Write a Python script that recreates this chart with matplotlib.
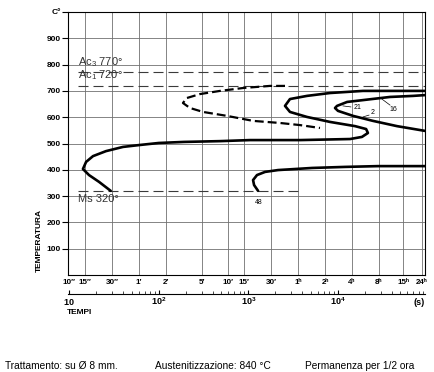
import matplotlib
matplotlib.use("Agg")
import matplotlib.pyplot as plt
import numpy as np

plt.rcParams['font.family'] = ['Liberation Sans', 'DejaVu Sans']
plt.rcParams['mathtext.fontset'] = 'custom'
plt.rcParams['mathtext.rm'] = 'Liberation Sans'
plt.rcParams['mathtext.bf'] = 'Liberation Sans:bold'

# time axis ticks (s) and labels
tick_times = [10, 15, 30, 60, 120, 300, 600, 900, 1800, 3600, 7200, 14400, 28800, 54000, 86400]
tick_labels = ['10\u2033', '15\u2033', '30\u2033', '1\u2032', '2\u2032', '5\u2032', '10\u2032', '15\u2032',
               '30\u2032', '1\u02b0', '2\u02b0', '4\u02b0', '8\u02b0', '15\u02b0', '24\u02b0']
temp_ticks = [100, 200, 300, 400, 500, 600, 700, 800, 900]

# critical temperatures
Ac3 = 770
Ac1 = 720
Ms = 320

# outer curve: from Ms, nose at ~14 s, bainite bay, pearlite nose
c1_t = [29, 21.5, 16.6, 14.2, 15.4, 18.4, 25.7, 39.8, 60, 100, 191, 483, 1045, 3780, 13700,
        18600, 21700, 20700, 15600, 8190, 4520, 2920, 2570, 2920, 4520, 8190, 19100, 45900, 94000]
c1_T = [320, 354, 380, 403, 430, 452, 471, 487, 494, 502, 506, 509, 513, 513, 517,
        525, 540, 555, 566, 582, 601, 620, 643, 669, 681, 692, 700, 700, 700]

# inner curve (21 / 2 / 16)
c2_t = [94000, 69200, 38300, 19100, 12700, 9800, 9300, 10050, 14800, 24700, 45900, 94000]
c2_T = [684, 681, 677, 665, 658, 643, 635, 624, 605, 586, 566, 548]

# dashed curve
c3_t = [2570, 1745, 873, 483, 289, 206, 186, 223, 312, 578, 1130, 2265, 3785, 6320]
c3_T = [719, 719, 711, 700, 688, 673, 654, 635, 620, 605, 586, 578, 570, 559]

# lower curve (48)
c4_t = [1285, 1160, 1130, 1250, 1540, 2150, 5150, 12000, 28100, 94000]
c4_T = [320, 342, 361, 380, 392, 399, 407, 411, 414, 414]

# small curve labels: text, t, T, leader start, leader end
notes = [
    ('21', 16400, 635, (11400, 643), (14000, 639)),
    ('2', 24700, 616, (19100, 601), (22300, 608)),
    ('16', 41300, 631, (31100, 669), (38300, 646)),
    ('48', 1320, 274, None, None),
]

xmin, xmax = 9.67, 94200

fig = plt.figure(figsize=(4.34, 3.72), dpi=100)
ax = fig.add_axes([68 / 434, 1 - 275 / 372, 357 / 434, 263 / 372])
ax.set_xscale('log')
ax.set_xlim(xmin, xmax)
ax.set_ylim(0, 1000)

grid_kw = dict(color='#707070', lw=0.6, zorder=1)
for t in tick_times[1:]:
    ax.axvline(t, **grid_kw)
for T in temp_ticks:
    ax.axhline(T, **grid_kw)

ax.set_xticks(tick_times)
ax.set_xticklabels(tick_labels, fontsize=5.8, fontweight='bold')
ax.xaxis.set_minor_locator(matplotlib.ticker.NullLocator())
ax.tick_params(axis='x', length=0, pad=3)

ax.set_yticks(temp_ticks + [1000])
ax.set_yticklabels([str(v) for v in temp_ticks] + ['C\u00b0'], fontsize=6, fontweight='bold')
ax.tick_params(axis='y', length=4, width=0.8, pad=1)
for sp in ax.spines.values():
    sp.set_linewidth(0.8)

# critical temperature lines
crit_kw = dict(color='#3a3a3a', lw=0.8, ls=(0, (9, 4.5)), zorder=2)
ax.plot([12.5, xmax], [Ac3, Ac3], **crit_kw)
ax.plot([12.5, xmax], [Ac1, Ac1], **crit_kw)
ax.plot([12.5, 3600], [Ms, Ms], **crit_kw)
ax.text(12.6, Ac3 + 12, 'Ac$_3$ 770\u00b0', fontsize=8, color='#333333', va='bottom')
ax.text(12.6, Ac1 + 12, 'Ac$_1$ 720\u00b0', fontsize=8, color='#333333', va='bottom')
ax.text(12.6, Ms - 12, 'Ms 320\u00b0', fontsize=8, color='#333333', va='top')

ax.plot(c1_t, c1_T, color='black', lw=1.9, solid_capstyle='round', zorder=3)
ax.plot(c2_t, c2_T, color='black', lw=1.9, solid_capstyle='round', zorder=3)
ax.plot(c3_t, c3_T, color='black', lw=1.6, ls=(0, (4, 1.8)), zorder=3)
ax.plot(c4_t, c4_T, color='black', lw=1.9, solid_capstyle='round', zorder=3)

for txt, t, T, p0, p1 in notes:
    ax.text(t, T, txt, fontsize=5, ha='center', va='center', zorder=4)
    if p0 is not None:
        ax.plot([p0[0], p1[0]], [p0[1], p1[1]], color='black', lw=0.5, zorder=4)

# secondary seconds axis
ax2 = fig.add_axes([68 / 434, 1 - 294 / 372, 357 / 434, 0.0001])
ax2.set_xscale('log')
ax2.set_xlim(xmin, xmax)
for s in ['top', 'left', 'right']:
    ax2.spines[s].set_visible(False)
ax2.spines['bottom'].set_linewidth(0.8)
ax2.set_yticks([])
ax2.set_xticks([10, 100, 1000, 10000])
ax2.set_xticklabels([r'$\mathbf{10}$', r'$\mathbf{10^2}$', r'$\mathbf{10^3}$', r'$\mathbf{10^4}$'],
                    fontsize=6.5)
for lab in ax2.get_xticklabels():
    lab.set_verticalalignment('baseline')
ax2.tick_params(axis='x', which='major', direction='in', length=3, width=0.8, pad=8)
ax2.tick_params(axis='x', which='minor', direction='in', length=2, width=0.5)

fig.text(425 / 434, 1 - 305 / 372, '(s)', fontsize=6.5, fontweight='bold', ha='right', va='baseline')
fig.text(67 / 434, 1 - 313 / 372, 'TEMPI', fontsize=6, fontweight='bold', ha='left', va='center')
fig.text(39 / 434, 1 - 241 / 372, 'TEMPERATURA', fontsize=6, fontweight='bold', rotation=90,
         ha='center', va='center')

foot_y = 1 - 366 / 372
fig.text(5 / 434, foot_y, 'Trattamento: su \u00d8 8 mm.', fontsize=7.3, va='center')
fig.text(155 / 434, foot_y, 'Austenitizzazione: 840 \u00b0C', fontsize=7.3, va='center')
fig.text(305 / 434, foot_y, 'Permanenza per 1/2 ora', fontsize=7.3, va='center')

fig.savefig('out.png', dpi=100)
